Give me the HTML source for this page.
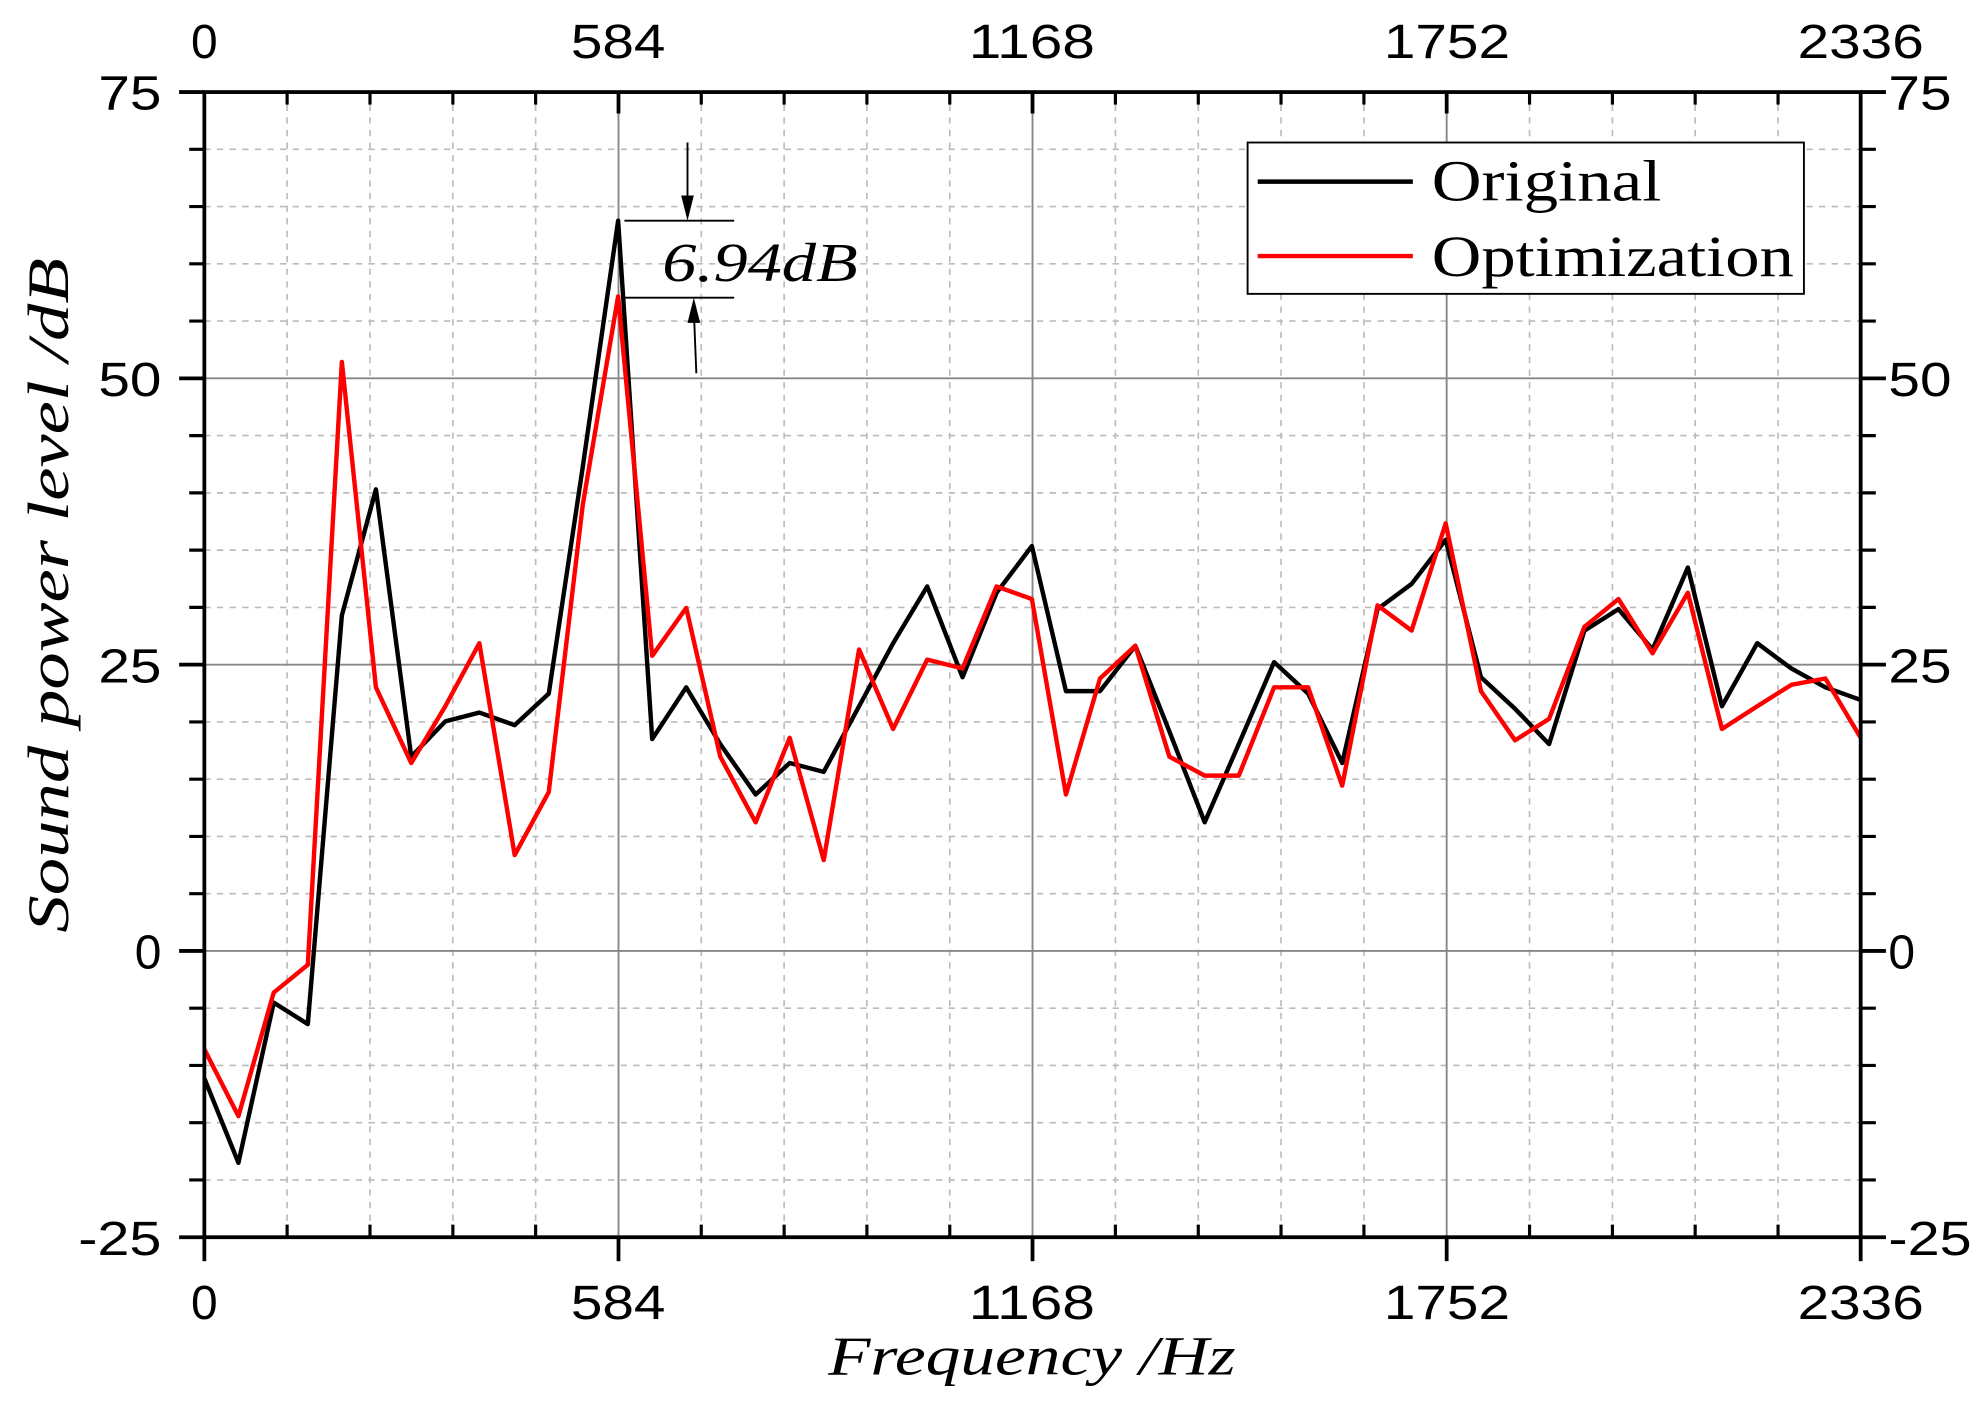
<!DOCTYPE html>
<html><head><meta charset="utf-8"><style>
html,body{margin:0;padding:0;background:#fff;}
svg{display:block;}
</style></head><body>
<svg width="1978" height="1410" viewBox="0 0 1568 1118" preserveAspectRatio="none" xmlns="http://www.w3.org/2000/svg">
<rect width="1568" height="1118" fill="#fff"/>
<g stroke="#bbb" stroke-width="1.3" stroke-dasharray="5,5">
<line x1="227.6" y1="73" x2="227.6" y2="981"/><line x1="293.3" y1="73" x2="293.3" y2="981"/><line x1="359" y1="73" x2="359" y2="981"/><line x1="424.6" y1="73" x2="424.6" y2="981"/>
<line x1="555.9" y1="73" x2="555.9" y2="981"/><line x1="621.6" y1="73" x2="621.6" y2="981"/><line x1="687.2" y1="73" x2="687.2" y2="981"/><line x1="752.9" y1="73" x2="752.9" y2="981"/>
<line x1="884.2" y1="73" x2="884.2" y2="981"/><line x1="949.9" y1="73" x2="949.9" y2="981"/><line x1="1015.5" y1="73" x2="1015.5" y2="981"/><line x1="1081.2" y1="73" x2="1081.2" y2="981"/>
<line x1="1212.5" y1="73" x2="1212.5" y2="981"/><line x1="1278.2" y1="73" x2="1278.2" y2="981"/><line x1="1343.8" y1="73" x2="1343.8" y2="981"/><line x1="1409.5" y1="73" x2="1409.5" y2="981"/>
<line x1="162" y1="118.4" x2="1475" y2="118.4"/><line x1="162" y1="163.8" x2="1475" y2="163.8"/><line x1="162" y1="209.2" x2="1475" y2="209.2"/><line x1="162" y1="254.6" x2="1475" y2="254.6"/>
<line x1="162" y1="345.4" x2="1475" y2="345.4"/><line x1="162" y1="390.8" x2="1475" y2="390.8"/><line x1="162" y1="436.2" x2="1475" y2="436.2"/><line x1="162" y1="481.6" x2="1475" y2="481.6"/>
<line x1="162" y1="572.4" x2="1475" y2="572.4"/><line x1="162" y1="617.8" x2="1475" y2="617.8"/><line x1="162" y1="663.2" x2="1475" y2="663.2"/><line x1="162" y1="708.6" x2="1475" y2="708.6"/>
<line x1="162" y1="799.4" x2="1475" y2="799.4"/><line x1="162" y1="844.8" x2="1475" y2="844.8"/><line x1="162" y1="890.2" x2="1475" y2="890.2"/><line x1="162" y1="935.6" x2="1475" y2="935.6"/>
</g>
<g stroke="#888" stroke-width="1.5">
<line x1="490.3" y1="73" x2="490.3" y2="981"/><line x1="818.5" y1="73" x2="818.5" y2="981"/><line x1="1146.8" y1="73" x2="1146.8" y2="981"/>
<line x1="162" y1="300" x2="1475" y2="300"/><line x1="162" y1="527" x2="1475" y2="527"/><line x1="162" y1="754" x2="1475" y2="754"/>
</g>
<polyline fill="none" stroke="#000" stroke-width="3.5" stroke-linejoin="round" points="162,855 189,922 217,795 244,812 271,488 298,388 326,600 353,572 380,565 408,575 435,550 462,370 490,175 517,586 544,545 571,590 599,630 626,605 653,612 681,560 708,510 735,465 763,537 790,470 818,433 845,548 872,548 900,512 927,580 955,652 982,590 1010,525 1037,550 1064,605 1092,483 1119,463 1146,428 1174,537 1201,562 1228,590 1256,500 1283,483 1310,515 1338,450 1365,560 1393,510 1420,530 1447,545 1475,555"/>
<polyline fill="none" stroke="#f00" stroke-width="3.5" stroke-linejoin="round" points="162,832 189,885 217,787 244,765 271,287 298,545 326,605 353,560 380,510 408,678 435,628 462,400 490,235 517,520 544,482 571,600 599,652 626,585 653,682 681,515 708,578 735,523 763,530 790,465 818,475 845,630 872,538 900,512 927,600 955,615 982,615 1010,545 1037,545 1064,623 1092,480 1119,500 1146,415 1174,548 1201,587 1228,570 1256,497 1283,475 1310,518 1338,470 1365,578 1393,560 1420,543 1447,538 1475,585"/>
<rect x="162" y="73" width="1313" height="908" fill="none" stroke="#000" stroke-width="3"/>
<g stroke="#000" stroke-width="3">
<line x1="142" y1="73" x2="162" y2="73"/><line x1="142" y1="300" x2="162" y2="300"/><line x1="142" y1="527" x2="162" y2="527"/><line x1="142" y1="754" x2="162" y2="754"/><line x1="142" y1="981" x2="162" y2="981"/>
<line x1="1475" y1="73" x2="1495" y2="73"/><line x1="1475" y1="300" x2="1495" y2="300"/><line x1="1475" y1="527" x2="1495" y2="527"/><line x1="1475" y1="754" x2="1495" y2="754"/><line x1="1475" y1="981" x2="1495" y2="981"/>
<line x1="162" y1="981" x2="162" y2="1000"/><line x1="490.3" y1="981" x2="490.3" y2="1000"/><line x1="818.5" y1="981" x2="818.5" y2="1000"/><line x1="1146.8" y1="981" x2="1146.8" y2="1000"/><line x1="1475" y1="981" x2="1475" y2="1000"/>
<line x1="490.3" y1="73" x2="490.3" y2="90"/><line x1="818.5" y1="73" x2="818.5" y2="90"/><line x1="1146.8" y1="73" x2="1146.8" y2="90"/>
</g>
<g stroke="#000" stroke-width="2.5">
<path d="M150 118.4h12M150 163.8h12M150 209.2h12M150 254.6h12M150 345.4h12M150 390.8h12M150 436.2h12M150 481.6h12M150 572.4h12M150 617.8h12M150 663.2h12M150 708.6h12M150 799.4h12M150 844.8h12M150 890.2h12M150 935.6h12"/>
<path d="M1475 118.4h12M1475 163.8h12M1475 209.2h12M1475 254.6h12M1475 345.4h12M1475 390.8h12M1475 436.2h12M1475 481.6h12M1475 572.4h12M1475 617.8h12M1475 663.2h12M1475 708.6h12M1475 799.4h12M1475 844.8h12M1475 890.2h12M1475 935.6h12"/>
<path d="M227.6 73v10M293.3 73v10M359 73v10M424.6 73v10M555.9 73v10M621.6 73v10M687.2 73v10M752.9 73v10M884.2 73v10M949.9 73v10M1015.5 73v10M1081.2 73v10M1212.5 73v10M1278.2 73v10M1343.8 73v10M1409.5 73v10"/>
<path d="M227.6 981v-10M293.3 981v-10M359 981v-10M424.6 981v-10M555.9 981v-10M621.6 981v-10M687.2 981v-10M752.9 981v-10M884.2 981v-10M949.9 981v-10M1015.5 981v-10M1081.2 981v-10M1212.5 981v-10M1278.2 981v-10M1343.8 981v-10M1409.5 981v-10"/>
</g>
<g font-family="Liberation Sans, sans-serif" font-size="38" fill="#000" lengthAdjust="spacingAndGlyphs">
<g text-anchor="end"><text x="128" y="87" textLength="50" lengthAdjust="spacingAndGlyphs">75</text><text x="128" y="314" textLength="50" lengthAdjust="spacingAndGlyphs">50</text><text x="128" y="541" textLength="50" lengthAdjust="spacingAndGlyphs">25</text><text x="128" y="768">0</text><text x="128" y="995" textLength="66" lengthAdjust="spacingAndGlyphs">-25</text></g>
<g text-anchor="start"><text x="1497" y="87" textLength="50" lengthAdjust="spacingAndGlyphs">75</text><text x="1497" y="314" textLength="50" lengthAdjust="spacingAndGlyphs">50</text><text x="1497" y="541" textLength="50" lengthAdjust="spacingAndGlyphs">25</text><text x="1497" y="768">0</text><text x="1497" y="995" textLength="66" lengthAdjust="spacingAndGlyphs">-25</text></g>
<g text-anchor="middle"><text x="162" y="46">0</text><text x="490" y="46" textLength="75" lengthAdjust="spacingAndGlyphs">584</text><text x="818" y="46" textLength="100" lengthAdjust="spacingAndGlyphs">1168</text><text x="1147" y="46" textLength="100" lengthAdjust="spacingAndGlyphs">1752</text><text x="1475" y="46" textLength="100" lengthAdjust="spacingAndGlyphs">2336</text>
<text x="162" y="1046">0</text><text x="490" y="1046" textLength="75" lengthAdjust="spacingAndGlyphs">584</text><text x="818" y="1046" textLength="100" lengthAdjust="spacingAndGlyphs">1168</text><text x="1147" y="1046" textLength="100" lengthAdjust="spacingAndGlyphs">1752</text><text x="1475" y="1046" textLength="100" lengthAdjust="spacingAndGlyphs">2336</text></g>
</g>
<text x="818" y="1090" text-anchor="middle" font-family="Liberation Serif, serif" font-style="italic" font-size="44" textLength="323" lengthAdjust="spacingAndGlyphs">Frequency /Hz</text>
<text transform="translate(54,472) rotate(-90)" text-anchor="middle" font-family="Liberation Serif, serif" font-style="italic" font-size="46" textLength="535" lengthAdjust="spacingAndGlyphs">Sound power level /dB</text>
<rect x="989" y="113" width="441" height="120" fill="#fff" stroke="#000" stroke-width="1.5"/>
<line x1="997" y1="144" x2="1120" y2="144" stroke="#000" stroke-width="3.5"/>
<line x1="997" y1="203" x2="1120" y2="203" stroke="#f00" stroke-width="3.5"/>
<g font-family="Liberation Serif, serif" font-size="46"><text x="1135" y="159" textLength="182" lengthAdjust="spacingAndGlyphs">Original</text><text x="1135" y="219" textLength="287" lengthAdjust="spacingAndGlyphs">Optimization</text></g>
<g stroke="#000" stroke-width="1.5" fill="none">
<line x1="495" y1="175" x2="582" y2="175"/><line x1="495" y1="236" x2="582" y2="236"/>
<line x1="545" y1="113" x2="545" y2="165"/><line x1="552" y1="296" x2="550" y2="246"/>
</g>
<polygon points="540,155 550,155 545,175" fill="#000"/>
<polygon points="545,256 555,256 550,236" fill="#000"/>
<text x="525" y="223" font-family="Liberation Serif, serif" font-style="italic" font-size="44" textLength="155" lengthAdjust="spacingAndGlyphs">6.94dB</text>
</svg>
</body></html>
